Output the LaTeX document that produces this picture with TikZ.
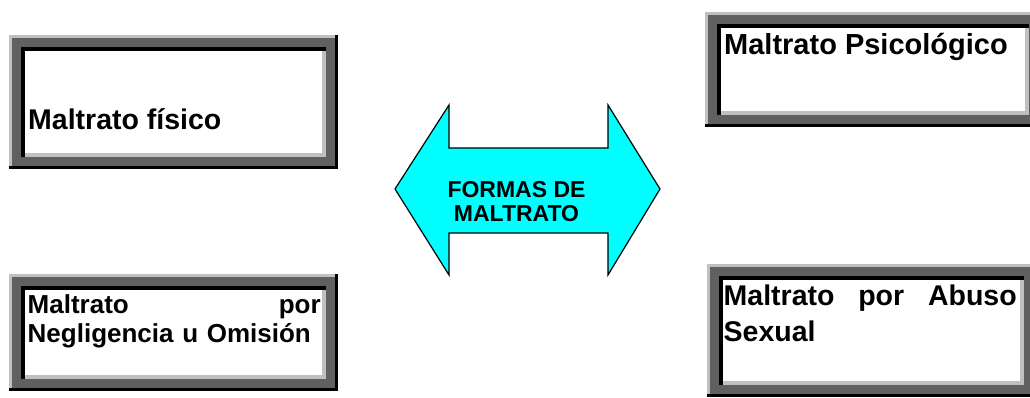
\documentclass[tikz,border=0pt]{standalone}
\usepackage{fontspec}
\setmainfont{Liberation Sans}

\definecolor{framedark}{RGB}{96,96,96}
\definecolor{framelight}{RGB}{192,192,192}
\definecolor{arrowcyan}{RGB}{0,255,255}

\begin{document}
\begin{tikzpicture}[
    x=1pt, y=-1pt,
    framebox/.style={rectangle, inner sep=0pt, fill=framedark, path picture={
        \coordinate (fnw) at (path picture bounding box.north west);
        \coordinate (fne) at (path picture bounding box.north east);
        \coordinate (fsw) at (path picture bounding box.south west);
        \coordinate (fse) at (path picture bounding box.south east);
        \fill[framelight] (fnw) rectangle ([yshift=-3pt]fne);
        \fill[framelight] (fnw) rectangle ([xshift=3pt]fsw);
        \fill[black] ([yshift=3pt]fsw) rectangle (fse);
        \fill[black] ([xshift=-3pt]fne) rectangle (fse);
        \fill[black] ([xshift=12pt,yshift=-12pt]fnw) rectangle ([xshift=-12pt,yshift=12pt]fse);
        \fill[framelight] ([xshift=16pt,yshift=-16pt]fnw) rectangle ([xshift=-12pt,yshift=12pt]fse);
        \fill[white] ([xshift=16pt,yshift=-16pt]fnw) rectangle ([xshift=-16pt,yshift=16pt]fse);
    }},
    boxtext/.style={anchor=base west, inner sep=0pt, font=\bfseries\fontsize{#1}{#1}\selectfont},
    parbox/.style={anchor=base west, inner sep=0pt, text width=293pt, align=left},
    arrowshape/.style={fill=arrowcyan, draw=black, line width=1.2pt, line join=miter},
    arrowtext/.style={inner sep=0pt, align=center, font=\bfseries\fontsize{23pt}{24pt}\selectfont}
]
    \useasboundingbox (0,0) rectangle (1030,398);
    \clip (0,0) rectangle (1030,398);

    % the four frames
    \node[framebox, minimum width=329pt, minimum height=134pt] (fisico) at (173.5,102) {};
    \node[framebox, minimum width=336pt, minimum height=115pt] (psicologico) at (873,69.5) {};
    \node[framebox, minimum width=329pt, minimum height=117pt] (negligencia) at (173.5,332.5) {};
    \node[framebox, minimum width=329pt, minimum height=133pt] (abuso) at (871.5,330.5) {};

    % texts
    \node[boxtext=28.5pt] (fisicotext) at (28,130) {Maltrato físico};
    \node[boxtext=29pt] (psicologicotext) at (724,54.5) {Maltrato Psicológico};
    \node[parbox, font=\bfseries\fontsize{26pt}{29pt}\selectfont] (negligenciatext) at (27.5,313.5)
        {Maltrato\hfill por\\Negligencia u Omisión};
    \node[parbox, font=\bfseries\fontsize{28.5pt}{36pt}\selectfont] (abusotext) at (723.5,305)
        {Maltrato\hfill por\hfill Abuso\\Sexual};

    % double arrow in the middle
    \draw[arrowshape] (395,189) -- (449,105) -- (449,148) -- (608,148) -- (608,105)
        -- (660,189) -- (608,275) -- (608,233) -- (449,233) -- (449,275) -- cycle;
    \node[arrowtext] (formas) at (516.5,201.5) {FORMAS DE\\MALTRATO};
\end{tikzpicture}
\end{document}
